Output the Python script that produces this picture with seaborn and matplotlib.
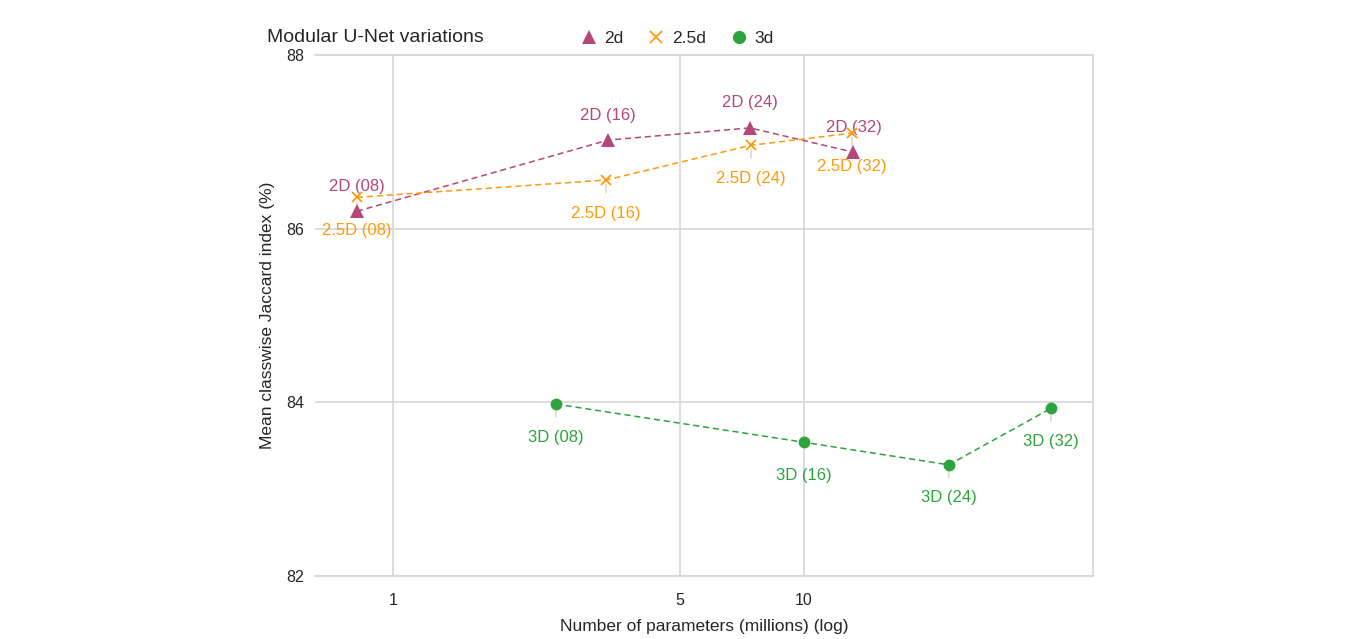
import matplotlib
matplotlib.use('Agg')
import matplotlib.pyplot as plt
from matplotlib.lines import Line2D
import seaborn as sns
import pandas as pd

# values
params_2d = [0.817, 3.34, 7.39, 13.2]
jaccard_2d = [86.20, 87.02, 87.16, 86.88]
params_25d = [0.817, 3.30, 7.43, 13.1]
jaccard_25d = [86.36, 86.56, 86.96, 87.10]
params_3d = [2.49, 10.0, 22.5, 39.9]
jaccard_3d = [83.98, 83.54, 83.28, 83.93]
widths = ['08', '16', '24', '32']

variants = ['2d', '2.5d', '3d']
colors = {'2d': '#b5467a', '2.5d': '#ff9a0a', '3d': '#2ca33c'}
markers = {'2d': '^', '2.5d': 'x', '3d': 'o'}
marker_sizes = {'2d': 9.5, '2.5d': 7, '3d': 8.5}
label_prefix = {'2d': '2D', '2.5d': '2.5D', '3d': '3D'}

rows = []
for v, xs, ys in [('2d', params_2d, jaccard_2d),
                  ('2.5d', params_25d, jaccard_25d),
                  ('3d', params_3d, jaccard_3d)]:
    for w, x, y in zip(widths, xs, ys):
        rows.append({'variant': v, 'width': w, 'params': x, 'jaccard': y})
df = pd.DataFrame(rows)

sns.set_style('white')
plt.rcParams['font.family'] = ['Liberation Sans', 'DejaVu Sans']

fig = plt.figure(figsize=(13.56, 6.39), dpi=100)
ax = fig.add_axes([0.2323, 0.0986, 0.8060 - 0.2323, 0.914 - 0.0986])

for v in variants:
    sub = df[df['variant'] == v]
    sns.lineplot(data=sub, x='params', y='jaccard', color=colors[v],
                 marker=markers[v], markersize=marker_sizes[v],
                 markeredgewidth=1.3 if v == '2.5d' else 0,
                 markeredgecolor=colors[v],
                 linestyle=(0, (4, 2.5)), linewidth=1.1,
                 ax=ax, zorder=3)

# point labels with light leader lines
offsets = {'2d': 25, '2.5d': -33, '3d': -33}
for _, r in df.iterrows():
    dy = offsets[r['variant']] * 0.72
    ax.annotate(f"{label_prefix[r['variant']]} ({r['width']})",
                xy=(r['params'], r['jaccard']), xytext=(0, dy),
                textcoords='offset points', ha='center', va='center',
                fontsize=12, color=colors[r['variant']], zorder=2,
                arrowprops=dict(arrowstyle='-', color='#dcdcdc', lw=1.3,
                                shrinkA=7, shrinkB=3))

ax.set_xscale('log')
ax.set_xlim(0.646, 50.5)
ax.set_ylim(82, 88)
ax.set_xticks([1, 5, 10])
ax.set_xticklabels(['1', '5', '10'])
ax.minorticks_off()
ax.set_yticks([82, 84, 86, 88])
ax.grid(True, color='#d6d6d6', linewidth=1.2)
ax.set_axisbelow(True)
ax.tick_params(axis='both', length=0, labelsize=11.5, pad=12)
ax.tick_params(axis='y', pad=8)
for side in ['top', 'right', 'bottom']:
    ax.spines[side].set_color('#d6d6d6')
    ax.spines[side].set_linewidth(1.2)
ax.spines['left'].set_visible(False)

ax.set_xlabel('Number of parameters (millions) (log)', fontsize=12.5, labelpad=8)
ax.set_ylabel('Mean classwise Jaccard index (%)', fontsize=12.5, labelpad=8)

fig.text(267 / 1356, 1 - 37 / 639, 'Modular U-Net variations', fontsize=14,
         ha='left', va='center')

handles = [Line2D([], [], linestyle='none', marker=markers[v], color=colors[v],
                  markersize=marker_sizes[v] + 1, markeredgecolor=colors[v],
                  markeredgewidth=1.3 if v == '2.5d' else 0)
           for v in variants]
ax.legend(handles, variants, ncol=3, frameon=False, fontsize=12.5,
          loc='center', bbox_to_anchor=(676 / 1356, 1 - 38 / 639),
          bbox_transform=fig.transFigure, handletextpad=0.3,
          columnspacing=1.3, handlelength=1.2)

plt.savefig('out.png', dpi=100)
